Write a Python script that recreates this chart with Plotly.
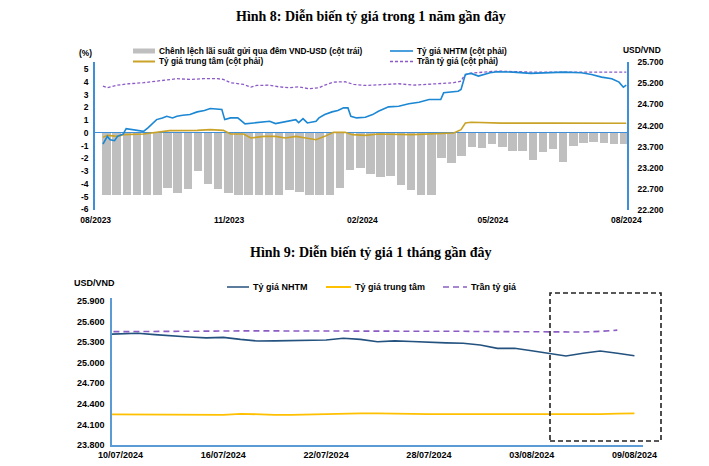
import plotly.graph_objects as go

# ---------------- Figure 8 data (1 year) ----------------
week_start = ["2023-08-14", "2023-08-21", "2023-08-28", "2023-09-04", "2023-09-11", "2023-09-18", "2023-09-25",
              "2023-10-02", "2023-10-09", "2023-10-16", "2023-10-23", "2023-10-30", "2023-11-06", "2023-11-13",
              "2023-11-20", "2023-11-27", "2023-12-04", "2023-12-11", "2023-12-18", "2023-12-25", "2024-01-01",
              "2024-01-08", "2024-01-15", "2024-01-22", "2024-01-29", "2024-02-05", "2024-02-12", "2024-02-19",
              "2024-02-26", "2024-03-04", "2024-03-11", "2024-03-18", "2024-03-25", "2024-04-01", "2024-04-08",
              "2024-04-15", "2024-04-22", "2024-04-29", "2024-05-06", "2024-05-13", "2024-05-20", "2024-05-27",
              "2024-06-03", "2024-06-10", "2024-06-17", "2024-06-24", "2024-07-01", "2024-07-08", "2024-07-15",
              "2024-07-22", "2024-07-29", "2024-08-05"]
spread = [-4.9, -4.9, -4.9, -4.9, -4.9, -4.9, -4.3, -4.7, -4.4, -3.0, -4.0, -4.4, -4.7,
          -4.9, -4.9, -4.9, -4.9, -4.9, -4.5, -4.6, -4.9, -4.9, -4.9, -4.3, -2.9, -2.75,
          -3.2, -3.5, -3.4, -4.1, -4.5, -4.9, -4.9, -2.0, -2.4, -1.8, -1.1, -1.2, -0.9,
          -1.1, -1.4, -1.4, -2.1, -1.5, -1.3, -2.3, -1.0, -0.8, -0.7, -0.8, -0.9, -0.85]

nhtm_dates = ["2023-08-14", "2023-08-17", "2023-08-19", "2023-08-22", "2023-08-24", "2023-08-28", "2023-08-30",
              "2023-09-04", "2023-09-11", "2023-09-14", "2023-09-18", "2023-09-20", "2023-09-24", "2023-09-27",
              "2023-10-01", "2023-10-04", "2023-10-08", "2023-10-13", "2023-10-18", "2023-10-23", "2023-10-27",
              "2023-11-01", "2023-11-04", "2023-11-06", "2023-11-10", "2023-11-15", "2023-11-20", "2023-11-26",
              "2023-12-03", "2023-12-07", "2023-12-11", "2023-12-18", "2023-12-25", "2023-12-27", "2023-12-30",
              "2024-01-02", "2024-01-08", "2024-01-10", "2024-01-14", "2024-01-19", "2024-01-23", "2024-01-27",
              "2024-01-30", "2024-02-01", "2024-02-05", "2024-02-11", "2024-02-16", "2024-02-20", "2024-02-27",
              "2024-03-05", "2024-03-12", "2024-03-19", "2024-03-26", "2024-04-03", "2024-04-05", "2024-04-15",
              "2024-04-17", "2024-04-20", "2024-04-24", "2024-04-29", "2024-05-03", "2024-05-07", "2024-05-12",
              "2024-05-23", "2024-06-04", "2024-06-16", "2024-06-27", "2024-07-09", "2024-07-16", "2024-07-23",
              "2024-07-30", "2024-08-04", "2024-08-07", "2024-08-09"]
nhtm_vals = [23764, 23945, 23866, 23842, 23945, 24002, 24128, 24104, 24064, 24145, 24263, 24342, 24382, 24421,
             24382, 24421, 24444, 24461, 24525, 24556, 24604, 24580, 24580, 24342, 24382, 24382, 24240, 24263,
             24278, 24302, 24247, 24287, 24342, 24271, 24366, 24263, 24302, 24382, 24461, 24525, 24556, 24620,
             24620, 24421, 24382, 24397, 24461, 24540, 24644, 24659, 24716, 24754, 24818, 24818, 24977, 25015,
             25056, 25413, 25437, 25373, 25413, 25453, 25477, 25468, 25437, 25453, 25468, 25453, 25413, 25349,
             25311, 25230, 25111, 25158]

ceil_dates = ["2023-08-14", "2023-08-17", "2023-08-24", "2023-09-01", "2023-09-11", "2023-09-20", "2023-09-27",
              "2023-10-04", "2023-10-13", "2023-10-22", "2023-11-01", "2023-11-05", "2023-11-10", "2023-11-19",
              "2023-11-24", "2023-11-28", "2023-12-07", "2023-12-13", "2023-12-20", "2023-12-27", "2024-01-03",
              "2024-01-10", "2024-01-14", "2024-01-20", "2024-01-28", "2024-02-03", "2024-02-11", "2024-02-22",
              "2024-03-05", "2024-03-15", "2024-03-24", "2024-04-03", "2024-04-12", "2024-04-17", "2024-04-19",
              "2024-04-22", "2024-04-26", "2024-05-06", "2024-05-12", "2024-06-04", "2024-07-02", "2024-07-23",
              "2024-08-09"]
ceil_vals = [25135, 25097, 25158, 25192, 25216, 25254, 25294, 25311, 25294, 25311, 25311, 25294, 25216, 25175,
             25111, 25151, 25158, 25120, 25097, 25120, 25073, 25097, 25158, 25230, 25239, 25175, 25151, 25175,
             25192, 25158, 25175, 25199, 25216, 25254, 25373, 25437, 25444, 25477, 25492, 25468, 25468, 25461,
             25468]

central_dates = ["2023-08-14", "2023-08-17", "2023-08-24", "2023-08-28", "2023-09-11", "2023-09-20", "2023-09-29",
                 "2023-10-18", "2023-10-27", "2023-11-05", "2023-11-10", "2023-11-19", "2023-11-24", "2023-12-03",
                 "2023-12-11", "2023-12-18", "2023-12-25", "2024-01-01", "2024-01-08", "2024-01-14", "2024-01-20",
                 "2024-01-28", "2024-02-02", "2024-02-11", "2024-02-20", "2024-03-14", "2024-03-28", "2024-04-12",
                 "2024-04-17", "2024-04-20", "2024-04-24", "2024-05-15", "2024-06-18", "2024-07-23", "2024-08-09"]
central_vals = [23921, 23968, 23945, 23985, 24002, 24049, 24080, 24087, 24104, 24087, 24002, 24002, 23906, 23945,
                23945, 23906, 23945, 23906, 23866, 23945, 24040, 24040, 23985, 23968, 24002, 23985, 24009, 24025,
                24104, 24263, 24278, 24259, 24259, 24254, 24254]

y_tick_left = [-6, -5, -4, -3, -2, -1, 0, 1, 2, 3, 4, 5]
y_tick_right = [22200, 22700, 23200, 23700, 24200, 24700, 25200, 25700]
y_tick_right_lbl = ["22.200", "22.700", "23.200", "23.700", "24.200", "24.700", "25.200", "25.700"]
x_tick_year = ["2023-08-09", "2023-11-09", "2024-02-09", "2024-05-09", "2024-08-09"]
x_tick_year_lbl = ["08/2023", "11/2023", "02/2024", "05/2024", "08/2024"]

# ---------------- Figure 9 data (1 month) ----------------
m_dates = ["2024-07-09", "2024-07-10", "2024-07-11", "2024-07-12", "2024-07-13", "2024-07-14", "2024-07-15",
           "2024-07-16", "2024-07-17", "2024-07-18", "2024-07-19", "2024-07-20", "2024-07-21", "2024-07-22",
           "2024-07-23", "2024-07-24", "2024-07-25", "2024-07-26", "2024-07-27", "2024-07-28", "2024-07-29",
           "2024-07-30", "2024-07-31", "2024-08-01", "2024-08-02", "2024-08-03", "2024-08-04", "2024-08-05",
           "2024-08-06", "2024-08-07", "2024-08-08", "2024-08-09"]
m_nhtm = [25414, 25420, 25429, 25410, 25389, 25375, 25362, 25370, 25340, 25316, 25318, 25321, 25325, 25331,
          25356, 25341, 25306, 25318, 25310, 25297, 25290, 25283, 25258, 25210, 25210, 25175, 25140, 25098,
          25137, 25170, 25137, 25102]
m_central = [24248, 24248, 24248, 24246, 24242, 24240, 24238, 24238, 24255, 24245, 24240, 24240, 24248, 24252,
             24258, 24262, 24260, 24262, 24255, 24250, 24250, 24248, 24245, 24242, 24242, 24242, 24242, 24242,
             24244, 24250, 24258, 24260]
m_ceil_dates = m_dates[:31]
m_ceiling = [25452, 25452, 25455, 25455, 25458, 25460, 25462, 25462, 25465, 25465, 25465, 25465, 25466, 25468,
             25468, 25468, 25466, 25466, 25465, 25462, 25460, 25458, 25455, 25452, 25450, 25448, 25445, 25443,
             25448, 25458, 25475]
m_ytick = [23800, 24100, 24400, 24700, 25000, 25300, 25600, 25900]
m_ytick_lbl = ["23.800", "24.100", "24.400", "24.700", "25.000", "25.300", "25.600", "25.900"]
m_xtick = ["2024-07-10", "2024-07-16", "2024-07-22", "2024-07-28", "2024-08-03", "2024-08-09"]
m_xtick_lbl = ["10/07/2024", "16/07/2024", "22/07/2024", "28/07/2024", "03/08/2024", "09/08/2024"]

# ---------------- styling helpers ----------------
# The page body has an 8px margin, so the figure is sized to fill the rest of the 709x466 window
OFF = 8
W, H = 709 - OFF, 466 - OFF
def px(x):
    return (x - OFF) / W
def py(y):
    return 1 - (y - OFF) / H

SANS = "Arial, Liberation Sans, sans-serif"
SERIF = "Times New Roman, Liberation Serif, serif"
AXIS_BLUE = "#3F8FD8"
C_BAR = "#BFBFBF"
C_NHTM = "#1C87D3"
C_CENT = "#C9A227"
C_CEIL = "#8C5AC8"
C2_NHTM = "#24527F"
C2_CENT = "#FFC000"
C2_CEIL = "#8A5CC4"
DAY = 86400000

fig = go.Figure()

fig.add_trace(go.Bar(x=week_start, y=spread, xaxis="x", yaxis="y", marker=dict(color=C_BAR, line=dict(width=0)),
                     width=5.9 * DAY, offset=-0.45 * DAY, showlegend=False, name="Chênh lệch"))
fig.add_trace(go.Scatter(x=central_dates, y=central_vals, xaxis="x", yaxis="y3", mode="lines",
                         line=dict(color=C_CENT, width=1.6), showlegend=False))
fig.add_trace(go.Scatter(x=ceil_dates, y=ceil_vals, xaxis="x", yaxis="y3", mode="lines",
                         line=dict(color=C_CEIL, width=1.3, dash="3px,2px"), showlegend=False))
fig.add_trace(go.Scatter(x=nhtm_dates, y=nhtm_vals, xaxis="x", yaxis="y3", mode="lines",
                         line=dict(color=C_NHTM, width=1.6), showlegend=False))

fig.add_trace(go.Scatter(x=m_dates, y=m_central, xaxis="x2", yaxis="y2", mode="lines",
                         line=dict(color=C2_CENT, width=1.8), showlegend=False))
fig.add_trace(go.Scatter(x=m_ceil_dates, y=m_ceiling, xaxis="x2", yaxis="y2", mode="lines",
                         line=dict(color=C2_CEIL, width=1.6, dash="6px,4px"), showlegend=False))
fig.add_trace(go.Scatter(x=m_dates, y=m_nhtm, xaxis="x2", yaxis="y2", mode="lines",
                         line=dict(color=C2_NHTM, width=1.6), showlegend=False))

tf_top = dict(family=SANS, size=8.5, color="#000000", weight="bold")
tf_bot = dict(family=SANS, size=9, color="#000000", weight="bold")

fig.update_layout(
    width=W, height=H, margin=dict(l=0, r=0, t=0, b=0, pad=0, autoexpand=False),
    paper_bgcolor="white", plot_bgcolor="white", showlegend=False, bargap=0,
    xaxis=dict(domain=[px(95), px(627)], anchor="y", type="date", automargin=False,
               range=["2023-08-08 12:00", "2024-08-09 12:00"], tickvals=x_tick_year, ticktext=x_tick_year_lbl,
               showgrid=False, showline=False, ticks="", tickfont=tf_top, zeroline=False, ticklabelstandoff=3),
    yaxis=dict(domain=[py(210), py(62)], anchor="x", range=[-6.05, 5.55], tickvals=y_tick_left, automargin=False,
               ticktext=[str(v) for v in y_tick_left], showgrid=False, showline=True, linecolor=AXIS_BLUE,
               linewidth=1.5, zeroline=True, zerolinecolor=AXIS_BLUE, zerolinewidth=1.3, ticks="",
               tickfont=tf_top, ticklabelstandoff=3),
    yaxis3=dict(overlaying="y", side="right", anchor="x", range=[22200, 25707], tickvals=y_tick_right,
                ticktext=y_tick_right_lbl, showgrid=False, showline=True, linecolor=AXIS_BLUE, linewidth=1.5,
                zeroline=False, ticks="", tickfont=tf_top, ticklabelstandoff=7, automargin=False),
    xaxis2=dict(domain=[px(112), px(643)], anchor="y2", type="date", automargin=False,
                range=["2024-07-09 12:00", "2024-08-09 12:00"], tickvals=m_xtick, ticktext=m_xtick_lbl,
                showgrid=False, showline=True, linecolor="#5B9BD5", linewidth=1.5, ticks="", tickfont=tf_bot,
                zeroline=False),
    yaxis2=dict(domain=[py(445), py(298)], anchor="x2", range=[23800, 25944], tickvals=m_ytick, automargin=False,
                ticktext=m_ytick_lbl, showgrid=False, showline=True, linecolor="#5B9BD5", linewidth=1.5,
                zeroline=False, ticks="", tickfont=tf_bot, ticklabelstandoff=4),
)

ann = []
def text(x, y, s, size, anchor="left", font=SANS, bold=True):
    ann.append(dict(x=px(x), y=py(y), xref="paper", yref="paper", text=s, showarrow=False,
                    xanchor=anchor, yanchor="middle",
                    font=dict(family=font, size=size, color="#000000", weight="bold" if bold else "normal")))

text(371, 17, "Hình 8: Diễn biến tỷ giá trong 1 năm gần đây", 14, "center", SERIF)
text(371, 252, "Hình 9: Diễn biến tỷ giá 1 tháng gần đây", 14, "center", SERIF)
text(85, 53, "(%)", 8.3, "center")
text(642, 50, "USD/VND", 8.4, "center")
text(94, 283, "USD/VND", 9, "center")
text(157, 51, "Chênh lệch lãi suất gửi qua đêm VND-USD (cột trái)", 8.3)
text(157, 61.5, "Tỷ giá trung tâm (cột phải)", 8.3)
text(415, 51, "Tỷ giá NHTM (cột phải)", 8.3)
text(415, 61.5, "Trần tỷ giá (cột phải)", 8.3)
text(251, 287, "Tỷ giá NHTM", 9)
text(353, 287, "Tỷ giá trung tâm", 9)
text(469, 287, "Trần tỷ giá", 9)

shapes = []
def hline(x0, x1, y, color, width, dash="solid"):
    shapes.append(dict(type="line", xref="paper", yref="paper", x0=px(x0), x1=px(x1), y0=py(y), y1=py(y),
                       line=dict(color=color, width=width, dash=dash)))

shapes.append(dict(type="rect", xref="paper", yref="paper", x0=px(133), x1=px(155), y0=py(53.5), y1=py(48.5),
                   fillcolor=C_BAR, line=dict(width=0)))
hline(133, 155, 61.5, C_CENT, 2)
hline(390, 413, 51, C_NHTM, 1.6)
hline(390, 413, 61.5, C_CEIL, 1.4, "3px,2px")
hline(227, 249, 287, "#5B7C9C", 2)
hline(326, 351, 287, C2_CENT, 2)
hline(443, 467, 287, "#A586CF", 2, "6px,4px")
shapes.append(dict(type="rect", xref="paper", yref="paper", x0=px(550), x1=px(661), y0=py(441), y1=py(293),
                   line=dict(color="#222222", width=1.6, dash="5px,3px"), fillcolor="rgba(0,0,0,0)"))

fig.update_layout(annotations=ann, shapes=shapes)
fig.write_html("out.html")
